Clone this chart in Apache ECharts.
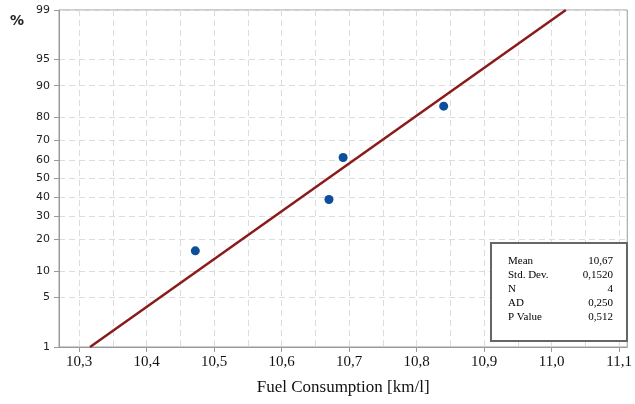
<!DOCTYPE html>
<html>
<head>
<meta charset="utf-8">
<script src="https://cdn.jsdelivr.net/npm/echarts@6/dist/echarts.min.js"></script>
<style>
  html, body { margin: 0; padding: 0; background: #fff; }
  #chart { width: 635px; height: 404px; }
</style>
</head>
<body>
<div id="chart"></div>
<script>
// measured values (x) and their plotted probabilities (%)
var fuel = [10.472, 10.670, 10.691, 10.840];
var pct = [15.9, 38.6, 61.4, 84.1];
// fitted normal line, end points
var fitX = [10.316, 11.021];
var fitPct = [1, 99];
// axis ticks
var yTicks = [1, 5, 10, 20, 30, 40, 50, 60, 70, 80, 90, 95, 99];
var xTicks = [10.3, 10.4, 10.5, 10.6, 10.7, 10.8, 10.9, 11.0, 11.1];
var xGrid = [10.3, 10.35, 10.4, 10.45, 10.5, 10.55, 10.6, 10.65, 10.7, 10.75,
             10.8, 10.85, 10.9, 10.95, 11.0, 11.05, 11.1];
// summary box
var statNames = ['Mean', 'Std. Dev.', 'N', 'AD', 'P Value'];
var statValues = ['10,67', '0,1520', '4', '0,250', '0,512'];

// inverse normal cdf (Acklam) -> probability scale
function probit(p) {
  var a = [-3.969683028665376e+01, 2.209460984245205e+02, -2.759285104469687e+02, 1.383577518672690e+02, -3.066479806614716e+01, 2.506628277459239e+00];
  var b = [-5.447609879822406e+01, 1.615858368580409e+02, -1.556989798598866e+02, 6.680131188771972e+01, -1.328068155288572e+01];
  var c = [-7.784894002430293e-03, -3.223964580411365e-01, -2.400758277161838e+00, -2.549732539343734e+00, 4.374664141464968e+00, 2.938163982698783e+00];
  var d = [7.784695709041462e-03, 3.224671290700398e-01, 2.445134137142996e+00, 3.754408661907416e+00];
  var pl = 0.02425, q, r;
  if (p < pl) {
    q = Math.sqrt(-2 * Math.log(p));
    return (((((c[0]*q+c[1])*q+c[2])*q+c[3])*q+c[4])*q+c[5]) / ((((d[0]*q+d[1])*q+d[2])*q+d[3])*q+1);
  }
  if (p <= 1 - pl) {
    q = p - 0.5; r = q * q;
    return (((((a[0]*r+a[1])*r+a[2])*r+a[3])*r+a[4])*r+a[5])*q / (((((b[0]*r+b[1])*r+b[2])*r+b[3])*r+b[4])*r+1);
  }
  q = Math.sqrt(-2 * Math.log(1 - p));
  return -(((((c[0]*q+c[1])*q+c[2])*q+c[3])*q+c[4])*q+c[5]) / ((((d[0]*q+d[1])*q+d[2])*q+d[3])*q+1);
}

var yTickVals = yTicks.map(function (t) { return probit(t / 100); });
var points = fuel.map(function (x, i) { return [x, probit(pct[i] / 100)]; });
var fitLine = fitX.map(function (x, i) { return [x, probit(fitPct[i] / 100)]; });

var gridLine = { show: true, lineStyle: { color: '#dcdcdc', type: [6, 4], width: 1 } };

var graphics = [
  {
    type: 'text', x: 10, y: 14, z: 10,
    style: { text: '%', font: 'bold 14px "DejaVu Sans"', fill: '#222' }
  },
  {
    type: 'rect', x: 491, y: 243, z: 10,
    shape: { width: 136, height: 98 },
    style: { fill: '#fff', stroke: '#666', lineWidth: 2 }
  }
];
statNames.forEach(function (name, i) {
  graphics.push({
    type: 'text', x: 508, y: 261 + i * 14, z: 11,
    style: { text: name, font: '11px "Liberation Serif"', fill: '#000', verticalAlign: 'middle' }
  });
  graphics.push({
    type: 'text', x: 613, y: 261 + i * 14, z: 11,
    style: { text: statValues[i], font: '11px "Liberation Serif"', fill: '#000', align: 'right', verticalAlign: 'middle' }
  });
});

var chart = echarts.init(document.getElementById('chart'));
chart.setOption({
  animation: false,
  grid: {
    left: 59, right: 4, top: 10, bottom: 57,
    show: true, borderColor: '#9a9a9a', borderWidth: 1
  },
  xAxis: [
    {
      type: 'value', min: 10.27, max: 11.112,
      axisLine: { show: true, onZero: false, lineStyle: { color: '#9a9a9a' } },
      axisTick: { show: false, customValues: xGrid },
      axisLabel: { show: false },
      splitLine: gridLine
    },
    {
      type: 'value', min: 10.27, max: 11.112, position: 'bottom',
      axisLine: { show: false, onZero: false },
      axisTick: { show: true, length: 5, customValues: xTicks, lineStyle: { color: '#9a9a9a' } },
      axisLabel: {
        customValues: xTicks, margin: 8,
        color: '#111', fontFamily: 'Liberation Serif', fontSize: 15,
        formatter: function (v) { return v.toFixed(1).replace('.', ','); }
      },
      splitLine: { show: false },
      name: 'Fuel Consumption [km/l]', nameLocation: 'middle', nameGap: 32,
      nameTextStyle: { color: '#111', fontFamily: 'Liberation Serif', fontSize: 17 }
    }
  ],
  yAxis: {
    type: 'value', min: probit(0.01), max: probit(0.99),
    axisLine: { show: true, onZero: false, lineStyle: { color: '#9a9a9a' } },
    axisTick: { show: true, length: 5, customValues: yTickVals, lineStyle: { color: '#9a9a9a' } },
    axisLabel: {
      customValues: yTickVals, margin: 9,
      color: '#222', fontFamily: 'DejaVu Sans', fontSize: 11,
      formatter: function (v) {
        for (var i = 0; i < yTickVals.length; i++) {
          if (Math.abs(yTickVals[i] - v) < 1e-6) return String(yTicks[i]);
        }
        return '';
      }
    },
    splitLine: gridLine
  },
  graphic: graphics,
  series: [
    {
      type: 'line', xAxisIndex: 0, data: fitLine,
      showSymbol: false, symbol: 'none',
      lineStyle: { color: '#8b1a1a', width: 2.5 }
    },
    {
      type: 'scatter', xAxisIndex: 0, data: points,
      symbolSize: 9, itemStyle: { color: '#0d4f9c', opacity: 1 }
    }
  ]
});
</script>
</body>
</html>
